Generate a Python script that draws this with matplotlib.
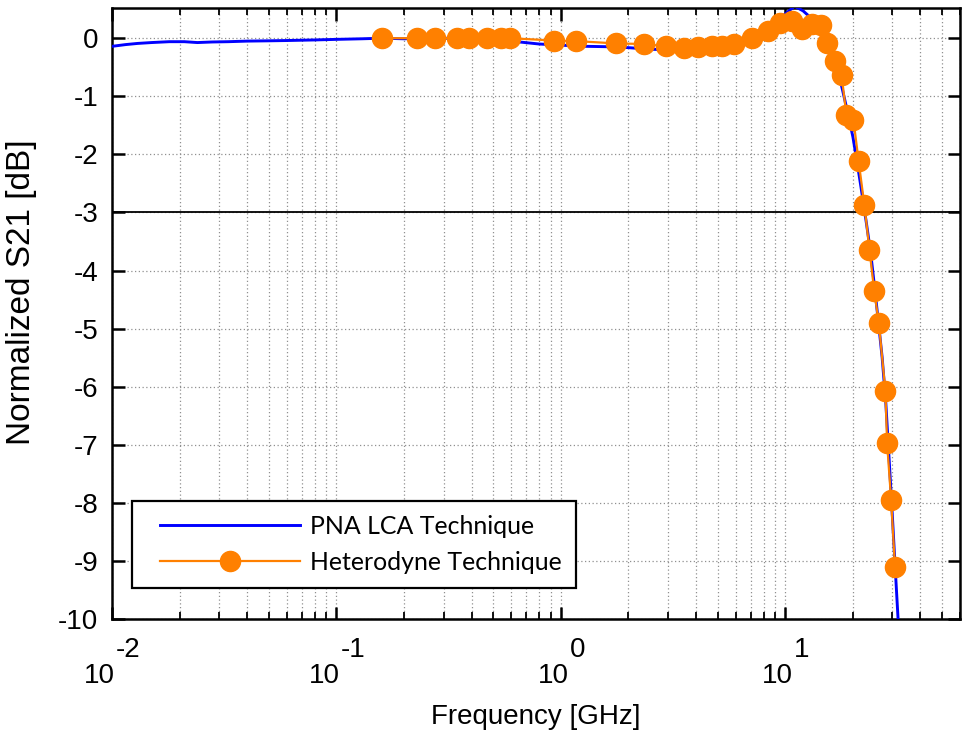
import numpy as np
import matplotlib
matplotlib.use("Agg")
import matplotlib.pyplot as plt
from matplotlib.ticker import LogLocator, NullFormatter, FixedLocator
from matplotlib.legend_handler import HandlerLine2D

# ---------------- data ----------------
pna_freq_ghz = [0.010, 0.0115, 0.013, 0.015, 0.018, 0.021, 0.024, 0.028, 0.033, 0.040,
                0.050, 0.060, 0.080, 0.100, 0.130, 0.160, 0.200, 0.250, 0.300, 0.400,
                0.500, 0.600, 0.800, 1.00, 1.30, 1.80, 2.50, 3.00, 3.50, 4.00,
                5.00, 6.00, 7.00, 8.00, 9.00, 10.0, 11.0, 12.0, 13.0, 14.0,
                15.0, 16.0, 17.0, 18.0, 19.0, 20.0, 21.0, 22.0, 23.0, 24.0,
                25.0, 26.0, 27.0, 28.0, 29.0, 30.0, 31.0, 32.0, 33.0]
pna_s21_db = [-0.14, -0.11, -0.09, -0.075, -0.06, -0.06, -0.075, -0.065, -0.06, -0.05,
              -0.045, -0.04, -0.03, -0.02, -0.01, 0.0, -0.01, 0.0, 0.0, -0.01,
              -0.02, -0.05, -0.10, -0.12, -0.14, -0.15, -0.19, -0.20, -0.19, -0.17,
              -0.12, -0.07, 0.0, 0.12, 0.25, 0.42, 0.55, 0.47, 0.35, 0.25,
              0.05, -0.20, -0.50, -0.90, -1.30, -1.70, -2.20, -2.70, -3.20, -3.70,
              -4.30, -4.90, -5.50, -6.25, -7.25, -8.25, -9.25, -10.2, -11.0]

het_freq_ghz = [0.160, 0.2275, 0.274, 0.344, 0.388, 0.469, 0.541, 0.595, 0.927, 1.17,
                1.76, 2.35, 2.94, 3.53, 4.08, 4.71, 5.21, 5.89, 7.08, 8.35,
                9.44, 10.67, 11.9, 13.2, 14.4, 15.4, 16.6, 17.8, 18.7, 20.1,
                21.2, 22.5, 23.7, 24.9, 26.1, 27.9, 28.4, 29.6, 30.8]
het_s21_db = [0.0, 0.0, 0.0, 0.0, 0.0, 0.0, 0.0, 0.0, -0.04, -0.05,
              -0.09, -0.10, -0.14, -0.17, -0.16, -0.14, -0.13, -0.10, 0.01, 0.13,
              0.27, 0.29, 0.16, 0.25, 0.23, -0.08, -0.40, -0.63, -1.32, -1.40,
              -2.11, -2.88, -3.64, -4.36, -4.91, -6.07, -6.97, -7.95, -9.11]

series_labels = ["PNA LCA Technique", "Heterodyne Technique"]
x_label = "Frequency [GHz]"
y_label = "Normalized S21 [dB]"
x_decades = [-2, -1, 0, 1]
y_ticks = [0, -1, -2, -3, -4, -5, -6, -7, -8, -9, -10]
x_limits = (0.01, 60)
y_limits = (-10, 0.52)
threshold_db = -3

# ---------------- style ----------------
plt.rcParams['font.family'] = ['Liberation Sans', 'DejaVu Sans']
AX_FS = 20
LEG_FS = 17.9

fig = plt.figure(figsize=(9.66, 7.36), dpi=100)
W, H = 966, 736
ax = fig.add_axes([112 / W, 1 - 619 / H, (960 - 112) / W, (619 - 8) / H])

ax.plot(pna_freq_ghz, pna_s21_db, color='#0000FF', lw=2.1, label=series_labels[0], zorder=3)
ax.plot(het_freq_ghz, het_s21_db, color='#FF8000', lw=1.6, marker='o', markersize=14.5,
        markeredgecolor='#FF8000', markerfacecolor='#FF8000', label=series_labels[1], zorder=4)
ax.axhline(threshold_db, color='black', lw=1.3, zorder=2)

ax.set_xscale('log')
ax.set_xlim(*x_limits)
ax.set_ylim(*y_limits)

ax.xaxis.set_major_locator(FixedLocator([10.0 ** d for d in x_decades]))
ax.xaxis.set_minor_locator(LogLocator(base=10, subs=np.arange(2, 10), numticks=20))
ax.xaxis.set_major_formatter(NullFormatter())
ax.xaxis.set_minor_formatter(NullFormatter())
ax.set_yticks(y_ticks)
ax.set_yticklabels([str(v) for v in y_ticks])

ax.tick_params(axis='both', which='major', direction='in', length=9, width=1.8,
               top=True, right=True, labelsize=AX_FS, color='black')
ax.tick_params(axis='x', which='minor', direction='in', length=5, width=1.3,
               top=True, bottom=True)
ax.tick_params(axis='y', which='major', pad=10)
for s in ax.spines.values():
    s.set_linewidth(1.8)

ax.grid(True, which='major', axis='both', color='#909090', linestyle=(0, (1, 2)), lw=0.9)
ax.grid(True, which='minor', axis='x', color='#909090', linestyle=(0, (1, 2)), lw=0.9)
ax.set_axisbelow(True)

# MATLAB-style decade labels: "10" with full-size raised exponent, centred on tick
renderer = fig.canvas.get_renderer()
for d in x_decades:
    t = 10.0 ** d
    base = ax.annotate('10', xy=(t, 0), xycoords=('data', 'axes fraction'),
                       xytext=(0, -64), textcoords='offset pixels',
                       ha='right', va='baseline', fontsize=AX_FS)
    expo = ax.annotate(str(d), xy=(t, 0), xycoords=('data', 'axes fraction'),
                       xytext=(0, -38), textcoords='offset pixels',
                       ha='left', va='baseline', fontsize=AX_FS)
    wb = base.get_window_extent(renderer).width
    we = expo.get_window_extent(renderer).width
    shift = (wb - we) / 2.0
    base.xyann = (shift, -64)
    expo.xyann = (shift + 1, -38)

ax.set_xlabel(x_label, fontsize=AX_FS)
ax.xaxis.set_label_coords(0.5, -0.172)
ax.xaxis.label.set_va('baseline')
ax.set_ylabel(y_label, fontsize=24)
ax.yaxis.set_label_coords(-0.0885, 0.535)

handler = HandlerLine2D(xpad=0.55)
leg = ax.legend(loc='lower left', bbox_to_anchor=(20 / 848, 31 / 611), borderaxespad=0,
                prop={'family': 'Lato', 'size': LEG_FS}, handlelength=6.17, handletextpad=0.4,
                labelspacing=0.5, borderpad=0.58, fancybox=False, framealpha=1,
                edgecolor='black', numpoints=1,
                handler_map={ax.lines[0]: handler, ax.lines[1]: handler})
leg.get_frame().set_linewidth(1.6)

fig.savefig('out.png', dpi=100)
